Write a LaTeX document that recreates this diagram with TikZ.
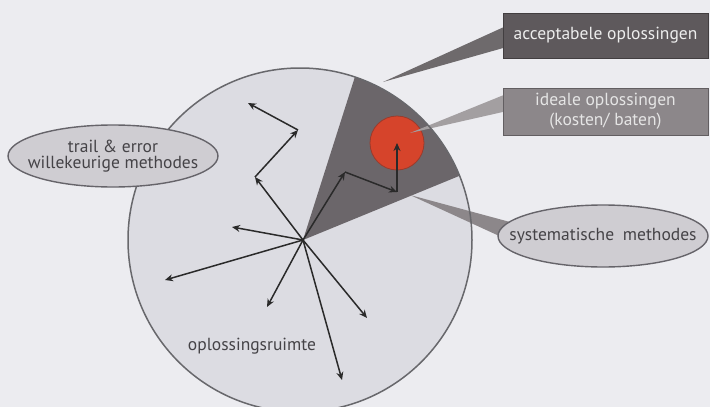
\documentclass[tikz,border=0pt]{standalone}
\usepackage{fontspec}
\setmainfont{PT Sans}
\usetikzlibrary{arrows.meta,shapes.geometric,calc}
\definecolor{bgc}{HTML}{ECECF0}
\definecolor{circfill}{HTML}{DCDCE2}
\definecolor{circedge}{HTML}{68686C}
\definecolor{wedgec}{HTML}{6B666A}
\definecolor{redc}{HTML}{D6442B}
\definecolor{rededge}{HTML}{9A3B2C}
\definecolor{accc}{HTML}{5E595C}
\definecolor{idec}{HTML}{8C878A}
\definecolor{ellfill}{HTML}{CFCDD2}
\definecolor{elledge}{HTML}{66646A}
\definecolor{elltext}{HTML}{454347}
\definecolor{arrc}{HTML}{2A2A2A}
\tikzset{
  arr/.style={draw=arrc, line width=1.5pt, -{Stealth[length=8pt,width=7pt]}},
  labbox/.style={rectangle, minimum width=205pt, inner sep=0pt, draw=#1!70!black, line width=1pt, fill=#1, align=center, font=\fontsize{17.5}{20}\selectfont},
  ellnode/.style={ellipse, minimum width=210pt, minimum height=62pt, inner sep=0pt, draw=elledge, line width=1.4pt, fill=ellfill},
  elltxt/.style={text=elltext, align=center, inner sep=0pt, font=\fontsize{17.5}{17}\selectfont},
}
\begin{document}
\begin{tikzpicture}[x=1pt,y=-1pt]
\fill[bgc] (0,0) rectangle (710,407);
\useasboundingbox (0,0) rectangle (710,407);
% solution space
\coordinate (C) at (300,240);
\coordinate (H) at (303,240);
\fill[circfill] (C) circle[radius=172pt];
\begin{scope}
  \clip (C) circle[radius=172pt];
  \fill[wedgec] (H) -- (373,20) -- (520,151) -- cycle;
\end{scope}
% ideal solutions
\coordinate (R) at (397,143);
\fill[redc] (R) circle[radius=27pt];
\draw[rededge, line width=0.8pt] (R) circle[radius=27pt];
% pointers (drawn before the labels)
\coordinate (accW) at (503,35.5);
\coordinate (ideW) at (503,111.5);
\coordinate (sysW) at (498,236);
\coordinate (accTip) at (383,82);
\coordinate (ideTip) at (410,133);
\coordinate (sysTip) at (410,195);
\fill[accc!90!white] (accTip) -- ($(accW)+(2,-9)$) -- ($(accW)+(2,12)$) -- cycle;
\fill[idec!80!white] (ideTip) -- ($(ideW)+(2,-17)$) -- ($(ideW)+(2,0)$) -- cycle;
\fill[idec] (sysTip) -- ($(sysW)+(12,-14)$) -- ($(sysW)+(10,4)$) -- cycle;
\draw[circedge, line width=1.5pt] (C) circle[radius=172pt];
% labels
\node[labbox=accc, minimum height=45pt, text=white!93!black] (acc) at (605.5,35.5) {acceptabele oplossingen};
\node[labbox=idec, minimum height=47pt, text=white!90!black] (ide) at (605.5,111.5) {ideale oplossingen\\(kosten/ baten)};
\node[ellnode] (sys) at (603,236) {};
\node[elltxt] (systext) at (sys.center) {systematische\enspace methodes};
\node[ellnode] (tre) at (113,156) {};
\node[elltxt] (tretext) at (tre.center) {trail \& error\\[-1pt]willekeurige methodes};
\node[elltxt] (ruimte) at (252,346) {oplossingsruimte};
% arrow targets
\coordinate (s1) at (345,172);
\coordinate (s2) at (397,192);
\coordinate (t1) at (255,177);
\coordinate (t2) at (298,130);
\coordinate (t3) at (248,103);
\coordinate (a1) at (232,227);
\coordinate (a2) at (165,280);
\coordinate (a3) at (267,307);
\coordinate (a4) at (367,318);
\coordinate (a5) at (342,380);
% systematic search
\draw[arr] (H) -- (s1);
\draw[arr] (s1) -- (s2);
\draw[arr] (s2) -- (R);
% trial and error search
\draw[arr] (H) -- (t1);
\draw[arr] (t1) -- (t2);
\draw[arr] (t2) -- (t3);
\draw[arr] (H) -- (a1);
\draw[arr] (H) -- (a2);
\draw[arr] (H) -- (a3);
\draw[arr] (H) -- (a4);
\draw[arr] (H) -- (a5);
\end{tikzpicture}
\end{document}
